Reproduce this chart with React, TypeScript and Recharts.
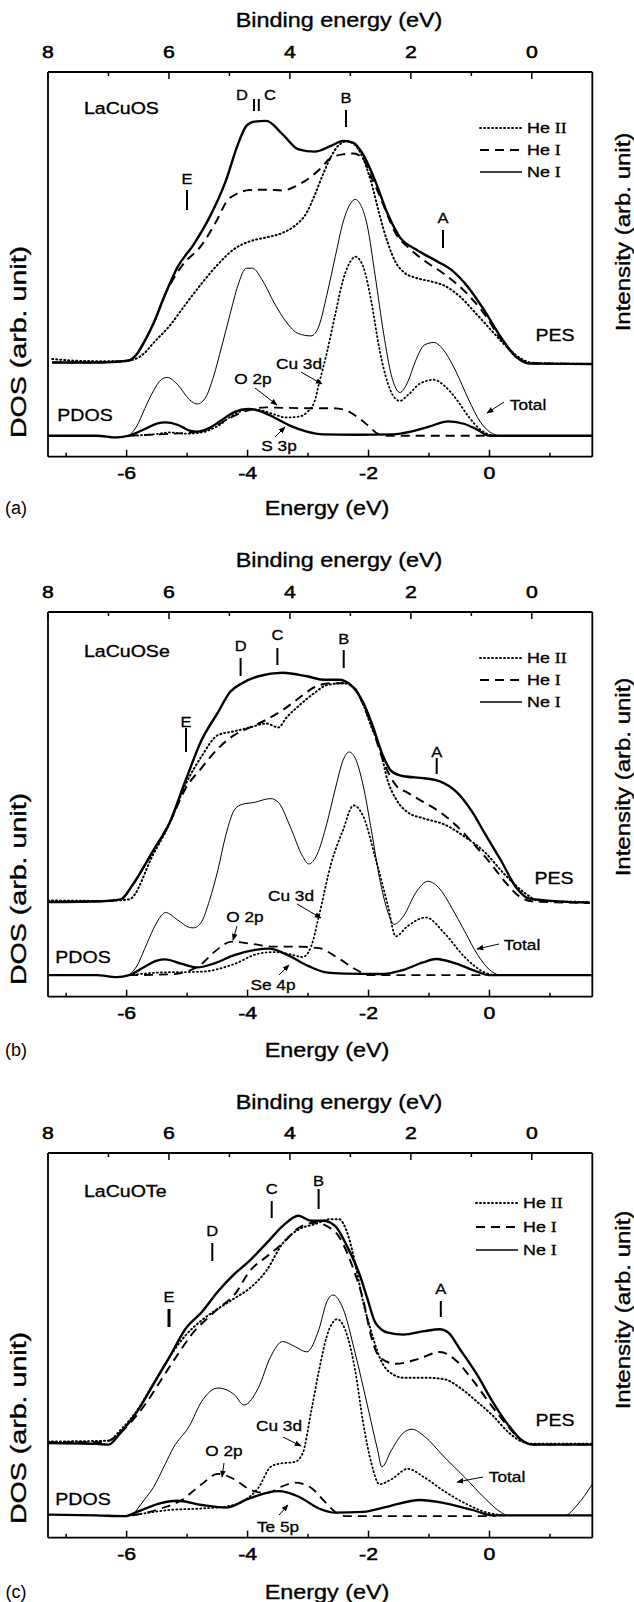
import { LineChart, Line, XAxis, YAxis } from 'recharts';

type Pt = [number, number];

const W = 634;
const H = 1602;
const PANEL_TOPS = [0, 540, 1081];
const FONT = '"Liberation Sans", Arial, sans-serif';
// binding energy = BIND_SHIFT - energy (top axis vs bottom axis)
const BIND_SHIFT = 0.7;

const bottomTicks = [-7, -6, -5, -4, -3, -2, -1, 0, 1];
const topTicks = [8, 7, 6, 5, 4, 3, 2, 1, 0];

// (a) LaCuOS  — all pairs are [energy (eV), intensity (arb.)]
const aNeI: Pt[] = [[-7.23,24.5],[-6.5,24.5],[-6.16,24.7],[-5.96,25.0],[-5.83,26.7],[-5.70,30.1],[-5.56,34.5],[-5.36,42.3],[-5.16,49.2],[-4.89,55.2],[-4.63,62.2],[-4.36,71.7],[-4.16,81.2],[-4.02,86.0],[-3.89,87.1],[-3.69,87.3],[-3.42,83.8],[-3.16,79.9],[-2.89,79.3],[-2.62,80.8],[-2.42,82.1],[-2.25,81.6],[-2.09,78.6],[-1.89,71.7],[-1.68,63.0],[-1.48,57.0],[-1.22,53.9],[-0.88,50.9],[-0.61,48.3],[-0.35,44.0],[-0.08,37.9],[0.19,31.0],[0.45,25.8],[0.66,24.2],[1.70,24.1]];
const aHeI: Pt[] = [[-7.23,24.5],[-6.5,24.5],[-6.16,24.7],[-5.96,25.0],[-5.83,26.7],[-5.70,30.1],[-5.56,34.5],[-5.36,42.3],[-5.09,49.5],[-4.76,55.0],[-4.49,62.0],[-4.36,66.0],[-4.16,68.5],[-3.96,69.3],[-3.69,69.4],[-3.42,69.2],[-3.22,70.2],[-3.02,72.0],[-2.82,74.5],[-2.62,77.7],[-2.42,78.6],[-2.25,78.8],[-2.09,77.5],[-1.95,72.5],[-1.82,68.0],[-1.68,62.5],[-1.55,58.0],[-1.35,54.5],[-1.08,51.0],[-0.75,47.5],[-0.41,43.0],[-0.08,37.0],[0.19,30.5],[0.45,26.0],[0.66,24.3],[1.70,24.1]];
const aHeII: Pt[] = [[-7.23,25.4],[-6.76,24.9],[-6.16,24.8],[-5.90,25.2],[-5.70,27.0],[-5.56,29.5],[-5.29,34.0],[-5.03,39.5],[-4.76,45.0],[-4.49,50.0],[-4.22,54.0],[-3.96,56.0],[-3.69,57.0],[-3.42,58.2],[-3.22,60.0],[-3.02,63.5],[-2.89,68.0],[-2.75,73.5],[-2.62,78.0],[-2.49,81.0],[-2.35,82.0],[-2.22,81.0],[-2.09,77.5],[-1.95,71.0],[-1.82,63.0],[-1.68,55.5],[-1.55,50.5],[-1.42,48.0],[-1.22,46.5],[-0.95,45.5],[-0.75,44.5],[-0.48,41.5],[-0.21,37.0],[0.05,32.5],[0.32,28.0],[0.52,25.5],[0.72,24.4],[1.70,24.1]];
const aTotal: Pt[] = [[-5.96,5.45],[-5.83,8.0],[-5.70,12.5],[-5.56,17.0],[-5.43,20.0],[-5.33,20.6],[-5.16,18.8],[-4.96,14.8],[-4.83,13.7],[-4.69,15.5],[-4.56,21.0],[-4.43,28.5],[-4.29,37.0],[-4.16,44.5],[-4.02,49.0],[-3.92,49.0],[-3.76,46.0],[-3.56,40.0],[-3.36,35.0],[-3.16,32.0],[-2.95,31.4],[-2.82,34.0],[-2.69,42.0],[-2.55,52.0],[-2.42,61.0],[-2.29,66.0],[-2.22,66.9],[-2.15,66.0],[-2.02,60.0],[-1.89,47.0],[-1.75,32.0],[-1.62,21.0],[-1.48,16.7],[-1.35,19.5],[-1.22,25.0],[-1.08,29.0],[-0.92,29.7],[-0.75,27.5],[-0.55,22.0],[-0.35,15.0],[-0.15,9.0],[0.05,6.0],[0.15,5.45]];
const aCu3d: Pt[] = [[-5.96,5.45],[-5.5,5.9],[-5.3,6.3],[-5.0,6.0],[-4.76,6.3],[-4.49,8.0],[-4.22,11.0],[-3.96,12.4],[-3.76,12.0],[-3.56,11.0],[-3.36,10.2],[-3.16,10.4],[-3.02,11.5],[-2.89,14.5],[-2.82,18.9],[-2.69,27.0],[-2.55,37.0],[-2.42,46.0],[-2.29,51.0],[-2.22,52.0],[-2.09,49.5],[-1.95,40.0],[-1.82,28.0],[-1.68,19.0],[-1.55,15.0],[-1.48,14.5],[-1.35,16.0],[-1.15,19.0],[-0.92,20.0],[-0.75,18.5],[-0.55,15.0],[-0.35,10.5],[-0.15,7.0],[0.05,5.45]];
const aO2p: Pt[] = [[-5.96,5.45],[-5.5,5.8],[-5.2,6.0],[-4.9,6.3],[-4.6,7.5],[-4.3,10.0],[-4.0,12.0],[-3.7,12.8],[-3.4,12.7],[-3.0,12.6],[-2.6,12.6],[-2.4,12.2],[-2.2,10.5],[-2.0,8.0],[-1.85,6.0],[-1.7,5.45],[0.1,5.45]];
const aS3p: Pt[] = [[-7.3,5.45],[-6.5,5.45],[-6.16,5.0],[-5.96,5.45],[-5.7,7.2],[-5.5,8.6],[-5.36,8.9],[-5.16,8.3],[-4.96,6.8],[-4.83,6.5],[-4.63,7.5],[-4.43,9.5],[-4.22,11.6],[-3.99,12.4],[-3.82,12.0],[-3.56,10.2],[-3.29,8.0],[-3.02,6.5],[-2.75,5.8],[-2.2,5.7],[-1.6,5.8],[-1.3,6.5],[-1.0,7.8],[-0.68,9.2],[-0.41,8.5],[-0.2,7.0],[0.0,5.45],[1.7,5.45]];

// (b) LaCuOSe
const bNeI: Pt[] = [[-7.3,24.6],[-6.4,24.8],[-6.1,25.3],[-5.90,29.1],[-5.56,38.0],[-5.29,45.2],[-5.03,56.0],[-4.76,66.7],[-4.49,73.9],[-4.29,79.2],[-4.09,81.5],[-3.82,83.3],[-3.42,84.2],[-3.02,83.3],[-2.75,82.4],[-2.49,82.4],[-2.29,81.0],[-2.09,76.5],[-1.95,71.2],[-1.75,62.2],[-1.62,58.6],[-1.42,57.3],[-1.08,56.8],[-0.82,56.0],[-0.55,53.3],[-0.28,47.9],[-0.08,42.5],[0.19,35.4],[0.45,28.2],[0.66,25.5],[1.66,24.4]];
const bHeI: Pt[] = [[-7.3,24.6],[-6.4,24.8],[-6.1,25.3],[-5.90,29.1],[-5.56,38.0],[-5.29,45.2],[-5.03,54.0],[-4.76,59.5],[-4.49,64.5],[-4.22,68.0],[-3.96,70.0],[-3.69,72.0],[-3.42,74.5],[-3.16,77.5],[-2.89,80.5],[-2.62,81.5],[-2.42,81.5],[-2.22,80.0],[-2.09,76.0],[-1.95,70.5],[-1.75,61.0],[-1.55,55.0],[-1.35,53.0],[-1.08,50.5],[-0.82,48.0],[-0.55,44.5],[-0.28,40.0],[0.0,35.0],[0.25,30.0],[0.5,26.0],[0.7,24.8],[1.66,24.4]];
const bHeII: Pt[] = [[-7.3,25.0],[-6.4,24.9],[-5.96,25.3],[-5.56,37.0],[-5.29,45.0],[-5.03,55.0],[-4.76,62.5],[-4.49,68.0],[-4.22,69.0],[-3.96,70.0],[-3.69,71.0],[-3.49,70.0],[-3.36,72.5],[-3.16,75.5],[-2.89,79.0],[-2.69,81.0],[-2.42,81.5],[-2.22,80.0],[-2.09,76.0],[-1.95,70.0],[-1.82,65.0],[-1.68,56.0],[-1.55,51.5],[-1.35,47.9],[-1.08,46.3],[-0.75,44.8],[-0.41,41.6],[-0.08,37.6],[0.25,31.8],[0.59,26.9],[0.8,25.0],[1.66,24.6]];
const bTotal: Pt[] = [[-5.96,5.6],[-5.83,8.0],[-5.70,12.5],[-5.56,17.5],[-5.43,21.0],[-5.36,21.9],[-5.16,20.0],[-4.96,18.0],[-4.89,17.9],[-4.76,19.5],[-4.63,25.0],[-4.49,33.0],[-4.36,42.0],[-4.22,48.5],[-4.09,50.0],[-3.89,50.5],[-3.62,51.5],[-3.49,50.5],[-3.29,44.0],[-3.09,36.5],[-2.99,34.5],[-2.85,37.0],[-2.69,45.0],[-2.55,54.0],[-2.42,61.5],[-2.32,63.6],[-2.22,62.0],[-2.09,55.0],[-1.95,43.0],[-1.82,31.0],[-1.68,22.0],[-1.58,18.8],[-1.42,21.0],[-1.22,27.0],[-1.02,30.0],[-0.82,28.0],[-0.62,23.0],[-0.41,17.0],[-0.2,11.0],[0.0,7.0],[0.15,5.6]];
const bCu3d: Pt[] = [[-5.96,5.6],[-5.43,6.3],[-4.76,6.5],[-4.22,8.5],[-3.82,11.2],[-3.56,11.6],[-3.29,11.0],[-3.09,10.3],[-2.95,13.0],[-2.82,21.0],[-2.62,34.5],[-2.42,43.4],[-2.25,49.7],[-2.09,47.0],[-1.89,36.3],[-1.68,23.7],[-1.55,15.7],[-1.35,18.4],[-1.05,20.6],[-0.75,16.6],[-0.41,10.3],[-0.08,6.3],[0.1,5.6]];
const bO2p: Pt[] = [[-5.96,5.6],[-5.3,5.8],[-4.96,6.8],[-4.76,8.5],[-4.56,11.5],[-4.26,14.3],[-3.96,13.8],[-3.56,13.0],[-3.16,13.0],[-2.82,12.6],[-2.5,10.0],[-2.2,7.0],[-2.0,5.6],[0.1,5.6]];
const bSe4p: Pt[] = [[-7.3,5.6],[-6.5,5.6],[-6.16,5.1],[-5.96,5.6],[-5.70,7.8],[-5.50,9.4],[-5.36,9.7],[-5.10,8.6],[-4.83,7.6],[-4.56,8.6],[-4.22,10.8],[-3.90,12.1],[-3.64,12.5],[-3.36,11.0],[-3.0,8.0],[-2.7,6.3],[-2.4,6.0],[-1.8,5.9],[-1.42,7.0],[-1.1,8.9],[-0.88,9.8],[-0.55,8.6],[-0.25,6.8],[0.0,5.6],[1.7,5.6]];

// (c) LaCuOTe
const cNeI: Pt[] = [[-7.3,24.6],[-6.5,24.4],[-6.30,24.2],[-6.10,27.3],[-5.83,32.7],[-5.56,39.8],[-5.29,47.0],[-5.03,54.2],[-4.76,58.6],[-4.49,64.0],[-4.22,68.5],[-3.96,72.1],[-3.69,76.5],[-3.42,81.0],[-3.16,83.7],[-2.95,82.4],[-2.75,82.4],[-2.55,81.0],[-2.35,75.6],[-2.15,68.5],[-2.02,62.2],[-1.89,56.0],[-1.68,53.3],[-1.42,52.8],[-1.08,53.7],[-0.82,54.2],[-0.68,53.3],[-0.48,48.8],[-0.21,42.5],[0.05,35.4],[0.32,29.1],[0.52,25.5],[0.72,24.2],[1.7,24.2]];
const cHeI: Pt[] = [[-7.3,24.8],[-6.4,24.8],[-6.2,26.0],[-5.96,29.5],[-5.70,34.5],[-5.43,41.0],[-5.16,47.5],[-4.89,53.5],[-4.63,57.5],[-4.49,59.5],[-4.22,63.1],[-3.96,69.4],[-3.69,73.0],[-3.42,76.5],[-3.16,80.5],[-2.89,81.9],[-2.69,81.0],[-2.49,78.3],[-2.35,73.9],[-2.22,68.5],[-2.09,62.0],[-1.95,52.0],[-1.82,47.0],[-1.55,45.2],[-1.15,46.6],[-0.82,48.3],[-0.55,46.0],[-0.28,41.0],[0.0,35.0],[0.25,30.0],[0.52,25.5],[0.72,24.2],[1.7,24.2]];
const cHeII: Pt[] = [[-7.3,25.0],[-6.3,25.2],[-6.1,28.0],[-5.83,33.0],[-5.56,40.0],[-5.29,47.0],[-5.03,52.5],[-4.76,56.5],[-4.49,59.5],[-4.22,62.2],[-3.96,64.9],[-3.69,69.4],[-3.42,76.5],[-3.16,80.1],[-2.89,81.5],[-2.62,82.8],[-2.49,82.8],[-2.35,79.2],[-2.22,71.2],[-2.09,61.3],[-1.95,53.3],[-1.82,47.0],[-1.68,43.4],[-1.42,41.6],[-1.08,41.6],[-0.75,41.2],[-0.48,38.9],[-0.21,35.4],[0.05,31.8],[0.32,27.3],[0.52,25.1],[0.72,24.4],[1.7,24.4]];
const cTotal: Pt[] = [[-5.90,5.8],[-5.7,10.0],[-5.56,13.0],[-5.36,19.2],[-5.23,23.3],[-4.96,29.1],[-4.76,35.4],[-4.49,38.9],[-4.22,37.2],[-4.06,34.5],[-3.82,39.0],[-3.62,47.0],[-3.42,51.0],[-3.22,49.7],[-3.02,48.3],[-2.82,54.2],[-2.69,61.3],[-2.59,63.1],[-2.42,59.5],[-2.22,47.9],[-2.02,34.5],[-1.85,22.8],[-1.78,18.4],[-1.62,22.8],[-1.42,27.3],[-1.28,28.2],[-1.08,26.4],[-0.75,21.0],[-0.41,15.7],[-0.08,10.3],[0.2,6.5],[0.3,5.8],[1.25,5.8],[1.45,8.5],[1.7,13.9]];
const cCu3d: Pt[] = [[-5.90,5.8],[-5.29,7.2],[-4.76,7.6],[-4.36,8.1],[-4.09,9.4],[-3.82,13.0],[-3.62,18.4],[-3.49,19.2],[-3.22,19.7],[-3.09,21.9],[-2.95,32.7],[-2.82,43.4],[-2.69,52.4],[-2.52,56.8],[-2.35,52.4],[-2.22,43.4],[-2.09,30.0],[-1.95,19.2],[-1.82,13.9],[-1.62,15.2],[-1.35,17.9],[-1.08,15.7],[-0.75,12.1],[-0.41,9.0],[-0.08,6.7],[0.25,5.8]];
const cO2p: Pt[] = [[-5.90,5.8],[-5.43,7.6],[-5.09,9.8],[-4.76,13.9],[-4.49,16.6],[-4.22,15.2],[-3.96,12.5],[-3.69,11.6],[-3.42,13.4],[-3.22,14.3],[-2.95,13.0],[-2.75,9.8],[-2.55,6.7],[-2.35,5.6],[0.1,5.6]];
const cTe5p: Pt[] = [[-7.3,6.0],[-6.5,5.8],[-6.02,5.6],[-5.83,6.7],[-5.43,9.0],[-5.16,9.6],[-4.76,8.5],[-4.36,7.8],[-3.96,10.3],[-3.49,12.1],[-3.16,10.7],[-2.82,7.6],[-2.55,6.5],[-2.09,6.7],[-1.68,8.1],[-1.15,9.8],[-0.75,9.0],[-0.28,7.2],[0.05,5.8],[1.7,5.8]];

type Mark = { t: string; x: number; y0: number; y1: number; tx: number; ty: number; w?: number };
type Note = { t: string; x: number; y: number; s: number };

const panels = [
  {
    tag: '(a)', name: 'LaCuOS', nameY: 108,
    neI: aNeI, heI: aHeI, heII: aHeII, total: aTotal, cu3d: aCu3d, o2p: aO2p, px: aS3p,
    legendX: 480, legendY: [128, 150, 172],
    marks: [
      { t: 'D', x: 254, y0: 99, y1: 111, tx: 242, ty: 95 },
      { t: 'C', x: 258.8, y0: 99, y1: 111, tx: 270, ty: 95 },
      { t: 'B', x: 346, y0: 110, y1: 127, tx: 346, ty: 98 },
      { t: 'E', x: 187, y0: 190, y1: 210, tx: 187, ty: 179 },
      { t: 'A', x: 443, y0: 230, y1: 248, tx: 443, ty: 218 },
    ] as Mark[],
    notes: [
      { t: 'PES', x: 555, y: 335, s: 17 }, { t: 'PDOS', x: 85, y: 415, s: 17 },
      { t: 'Cu 3d', x: 299, y: 363, s: 15 }, { t: 'O 2p', x: 253, y: 378, s: 15 },
      { t: 'Total', x: 528, y: 404, s: 15 }, { t: 'S 3p', x: 279, y: 445, s: 15 },
    ] as Note[],
    arrows: [[255, 388, 277, 405], [301, 372, 322, 384], [504, 402, 487, 413], [275, 437, 285, 427]],
    intensityY: 232, dosY: 342, bindY: 20, energyY: 508,
  },
  {
    tag: '(b)', name: 'LaCuOSe', nameY: 111,
    neI: bNeI, heI: bHeI, heII: bHeII, total: bTotal, cu3d: bCu3d, o2p: bO2p, px: bSe4p,
    legendX: 480, legendY: [118, 140, 162],
    marks: [
      { t: 'D', x: 240.6, y0: 118, y1: 136, tx: 240.6, ty: 106 },
      { t: 'C', x: 277.4, y0: 108, y1: 125, tx: 277.4, ty: 95 },
      { t: 'B', x: 343.7, y0: 110, y1: 128, tx: 343.7, ty: 99 },
      { t: 'E', x: 186, y0: 188, y1: 212, tx: 186, ty: 182 },
      { t: 'A', x: 436.7, y0: 218, y1: 234, tx: 436.7, ty: 212 },
    ] as Mark[],
    notes: [
      { t: 'PES', x: 554, y: 338, s: 17 }, { t: 'PDOS', x: 83, y: 417, s: 17 },
      { t: 'Cu 3d', x: 291, y: 355, s: 15 }, { t: 'O 2p', x: 245, y: 376, s: 15 },
      { t: 'Total', x: 522, y: 404, s: 15 }, { t: 'Se 4p', x: 273, y: 444, s: 15 },
    ] as Note[],
    arrows: [[237, 386, 233, 400], [297, 364, 321, 378], [499, 404, 477, 409], [279, 435, 289, 425]],
    intensityY: 237, dosY: 349, bindY: 20, energyY: 510,
  },
  {
    tag: '(c)', name: 'LaCuOTe', nameY: 110,
    neI: cNeI, heI: cHeI, heII: cHeII, total: cTotal, cu3d: cCu3d, o2p: cO2p, px: cTe5p,
    legendX: 476, legendY: [122, 146, 169],
    marks: [
      { t: 'C', x: 271.7, y0: 120, y1: 137, tx: 271.7, ty: 108 },
      { t: 'B', x: 318.6, y0: 108, y1: 128, tx: 318.6, ty: 100 },
      { t: 'D', x: 212.3, y0: 162, y1: 180, tx: 212.3, ty: 150 },
      { t: 'E', x: 169, y0: 228, y1: 246, tx: 169, ty: 216, w: 3 },
      { t: 'A', x: 440.8, y0: 220, y1: 236, tx: 440.8, ty: 208 },
    ] as Mark[],
    notes: [
      { t: 'PES', x: 555, y: 339, s: 17 }, { t: 'PDOS', x: 83, y: 418, s: 17 },
      { t: 'Cu 3d', x: 279, y: 344, s: 15 }, { t: 'O 2p', x: 224, y: 369, s: 15 },
      { t: 'Total', x: 507, y: 395, s: 15 }, { t: 'Te 5p', x: 278, y: 445, s: 15 },
    ] as Note[],
    arrows: [[224, 382, 222, 396], [283, 356, 301, 365], [483, 396, 457, 401], [279, 434, 288, 424]],
    intensityY: 229, dosY: 347, bindY: 21, energyY: 511,
  },
];

// scanned-print look: slightly stretched, slightly heavy text
function Txt({ x, y, size = 16, sx = 1.15, rot = 0, anchor = 'middle', heavy = 0.35, children }: any) {
  return (
    <text
      transform={`translate(${x},${y}) rotate(${rot}) scale(${sx},1)`}
      fontSize={size}
      fontFamily={FONT}
      textAnchor={anchor}
      dominantBaseline="central"
      fill="#000"
      stroke="#000"
      strokeWidth={heavy}
    >
      {children}
    </text>
  );
}

function BottomTick(props: any) {
  const { x, y, payload } = props;
  const major = payload.value % 2 === 0;
  return (
    <g>
      <line x1={x} x2={x} y1={y} y2={y - (major ? 7 : 4)} stroke="#000" strokeWidth={1.5} />
      {major && <Txt x={x} y={y + 16.5} size={17} sx={1.25} heavy={0.5}>{String(payload.value)}</Txt>}
    </g>
  );
}

function TopTick(props: any) {
  const { x, y, payload } = props;
  const major = payload.value % 2 === 0;
  return (
    <g>
      <line x1={x} x2={x} y1={y} y2={y + (major ? 7 : 4)} stroke="#000" strokeWidth={1.5} />
      {major && <Txt x={x} y={y - 20} size={17} sx={1.25} heavy={0.5}>{String(payload.value)}</Txt>}
    </g>
  );
}

// DOS curves go on the energy axis, PES spectra on the binding-energy axis
const onEnergy = (d: Pt[]) => d.map(([e, v]) => ({ x: e, v }));
const onBinding = (d: Pt[]) => d.map(([e, v]) => ({ x: BIND_SHIFT - e, v }));
const frame = { stroke: '#000', strokeWidth: 1.8 };

function PanelChart({ p }: { p: (typeof panels)[number] }) {
  const series = [
    { d: onEnergy(p.total), ax: 'b', w: 1, dash: undefined },
    { d: onEnergy(p.cu3d), ax: 'b', w: 1.8, dash: '1 3' },
    { d: onEnergy(p.o2p), ax: 'b', w: 1.8, dash: '9 6' },
    { d: onEnergy(p.px), ax: 'b', w: 2.3, dash: undefined },
    { d: onBinding(p.heII), ax: 't', w: 2, dash: '1 3' },
    { d: onBinding(p.heI), ax: 't', w: 2, dash: '9 6' },
    { d: onBinding(p.neI), ax: 't', w: 2.4, dash: undefined },
  ];
  return (
    <LineChart width={W} height={540} margin={{ top: 71, right: 40.7, bottom: 82.3, left: 47 }}>
      <XAxis xAxisId="b" dataKey="x" type="number" domain={[-7.3, 1.7]} allowDataOverflow ticks={bottomTicks}
        interval={0} tick={(t: any) => <BottomTick {...t} />} tickLine={false} tickSize={0} tickMargin={0}
        height={1} axisLine={frame} />
      <XAxis xAxisId="t" dataKey="x" orientation="top" type="number" domain={[-1, 8]} reversed allowDataOverflow
        ticks={topTicks} interval={0} tick={(t: any) => <TopTick {...t} />} tickLine={false} tickSize={0}
        tickMargin={0} height={1} axisLine={frame} />
      <YAxis yAxisId="l" type="number" domain={[0, 100]} allowDataOverflow tick={false} tickLine={false} width={1} axisLine={frame} />
      <YAxis yAxisId="r" orientation="right" type="number" domain={[0, 100]} tick={false} tickLine={false} width={1} axisLine={frame} />
      {series.map((s, i) => (
        <Line key={i} xAxisId={s.ax} yAxisId="l" data={s.d} dataKey="v" type="monotone" stroke="#000"
          strokeWidth={s.w} strokeDasharray={s.dash} strokeLinecap={s.dash === '1 3' ? 'round' : 'butt'}
          dot={false} activeDot={false} isAnimationActive={false} />
      ))}
    </LineChart>
  );
}

function Overlay({ p }: { p: (typeof panels)[number] }) {
  const lx = p.legendX;
  const legend = [
    { dash: '1 3', cap: 'round', label: 'II' },
    { dash: '9 6', cap: 'butt', label: 'I' },
    { dash: undefined, cap: 'butt', label: 'I' },
  ];
  return (
    <g>
      <Txt x={339} y={p.bindY} size={20} sx={1.17}>Binding energy (eV)</Txt>
      <Txt x={327} y={p.energyY} size={20} sx={1.17}>Energy (eV)</Txt>
      <Txt x={16} y={p.energyY} size={18} sx={1} heavy={0}>{p.tag}</Txt>
      <Txt x={623} y={p.intensityY} size={20} sx={1.2} rot={-90}>Intensity (arb. unit)</Txt>
      <Txt x={18} y={p.dosY} size={22} sx={1.3} rot={-90}>DOS (arb. unit)</Txt>
      <Txt x={84} y={p.nameY} size={17} anchor="start">{p.name}</Txt>
      {p.marks.map((m) => (
        <g key={m.t}>
          <line x1={m.x} x2={m.x} y1={m.y0} y2={m.y1} stroke="#000" strokeWidth={m.w ?? 2} />
          <Txt x={m.tx} y={m.ty} size={15} sx={1.1} heavy={0.3}>{m.t}</Txt>
        </g>
      ))}
      {p.notes.map((n) => (
        <Txt key={n.t} x={n.x} y={n.y} size={n.s} sx={1.15} heavy={0.3}>{n.t}</Txt>
      ))}
      {p.arrows.map((a, i) => (
        <line key={i} x1={a[0]} y1={a[1]} x2={a[2]} y2={a[3]} stroke="#000" strokeWidth={1} markerEnd="url(#ah)" />
      ))}
      {legend.map((l, i) => (
        <g key={i}>
          <line x1={lx} x2={lx + 42} y1={p.legendY[i]} y2={p.legendY[i]} stroke="#000"
            strokeWidth={i === 2 ? 1.5 : 1.8} strokeDasharray={l.dash} strokeLinecap={l.cap as any} />
          <g transform={`translate(${lx + 47},${p.legendY[i]}) scale(1.28,1)`}>
            <text fontSize={14} fontFamily={FONT} dominantBaseline="central" stroke="#000" strokeWidth={0.3}>
              {i === 2 ? 'Ne ' : 'He '}
              <tspan fontFamily='"Liberation Serif", serif'>{l.label}</tspan>
            </text>
          </g>
        </g>
      ))}
    </g>
  );
}

export default function App() {
  return (
    <div style={{ position: 'absolute', left: 0, top: 0, width: W, height: H, background: '#fff' }}>
      {panels.map((p, i) => (
        <div key={p.tag} style={{ position: 'absolute', left: 0, top: PANEL_TOPS[i] }}>
          <PanelChart p={p} />
        </div>
      ))}
      <svg width={W} height={H} style={{ position: 'absolute', left: 0, top: 0, pointerEvents: 'none' }}>
        <defs>
          <marker id="ah" viewBox="0 0 10 10" refX="9" refY="5" markerWidth="7" markerHeight="7" orient="auto">
            <path d="M0,1 L10,5 L0,9 z" fill="#000" />
          </marker>
        </defs>
        {panels.map((p, i) => (
          <g key={p.tag} transform={`translate(0,${PANEL_TOPS[i]})`}>
            <Overlay p={p} />
          </g>
        ))}
      </svg>
    </div>
  );
}
